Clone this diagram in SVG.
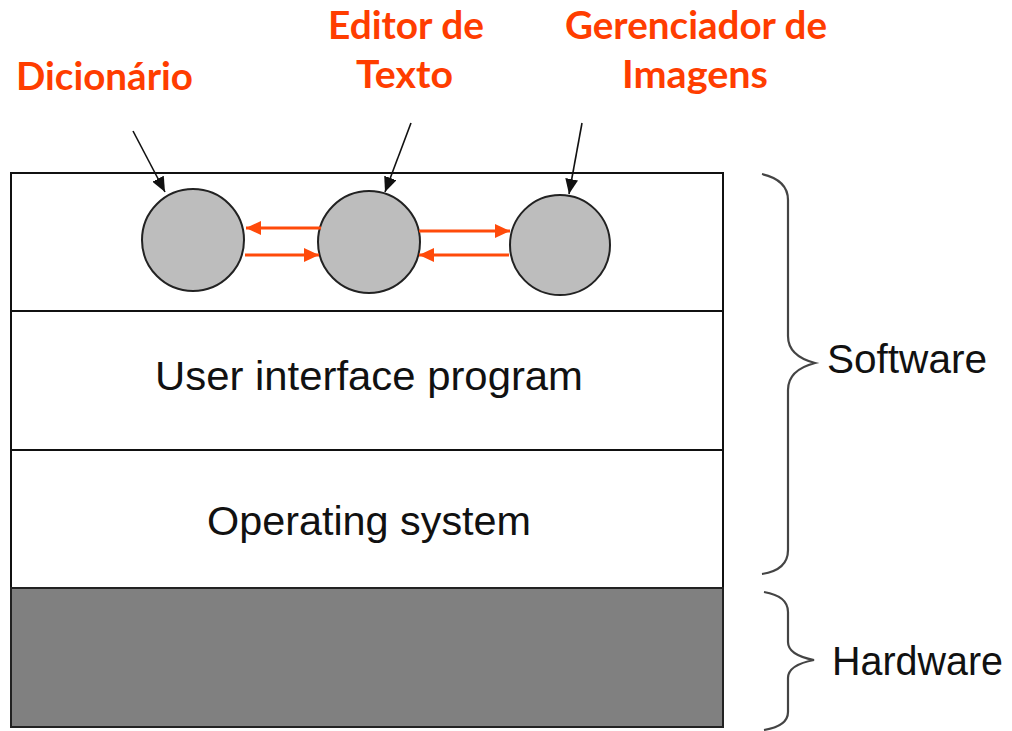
<svg xmlns="http://www.w3.org/2000/svg" width="1012" height="731" viewBox="0 0 1012 731">
<style>
.lbl{font-family:"Lato","Open Sans",sans-serif;font-weight:700;font-size:39px;fill:#FF3D00}
.txt{font-family:"Liberation Sans",Arial,sans-serif;font-size:41px;fill:#111}
.layer{fill:#fff;stroke:#111;stroke-width:2}
.proc{fill:#BDBDBD;stroke:#222;stroke-width:2}
.ptr{stroke:#111;stroke-width:1.6;fill:none}
.ipc{stroke:#FF4A0A;stroke-width:3;fill:none}
.brace{stroke:#444;stroke-width:2.2;fill:none}
</style>
<defs>
<marker id="ah" markerUnits="userSpaceOnUse" markerWidth="15" markerHeight="13" refX="15" refY="6.5" orient="auto">
<path d="M0,0 L15,6.5 L0,13 z" fill="#111"/>
</marker>
<marker id="oh" markerUnits="userSpaceOnUse" markerWidth="15" markerHeight="14" refX="15" refY="7" orient="auto">
<path d="M0,0 L15,7 L0,14 z" fill="#FF4A0A"/>
</marker>
</defs>
<rect width="1012" height="731" fill="#fff"/>

<g id="layer-apps"><rect class="layer" x="11" y="173" width="712" height="138"/></g>
<g id="layer-ui"><rect class="layer" x="11" y="311" width="712" height="139"/>
<text class="txt" x="369" y="390" text-anchor="middle" textLength="428" lengthAdjust="spacingAndGlyphs">User interface program</text></g>
<g id="layer-os"><rect class="layer" x="11" y="450" width="712" height="138"/>
<text class="txt" x="369" y="535" text-anchor="middle" textLength="324" lengthAdjust="spacingAndGlyphs">Operating system</text></g>
<g id="layer-hw"><rect x="11" y="588" width="712" height="139" fill="#808080" stroke="#222" stroke-width="2"/></g>

<g id="dicionario">
<circle class="proc" cx="193" cy="240" r="51"/>
<text class="lbl" x="16" y="90" textLength="177" lengthAdjust="spacingAndGlyphs">Dicionário</text>
</g>
<g id="editor">
<circle class="proc" cx="369" cy="242" r="51"/>
<text class="lbl" x="328" y="39" textLength="156" lengthAdjust="spacingAndGlyphs">Editor de</text>
<text class="lbl" x="356" y="88" textLength="97" lengthAdjust="spacingAndGlyphs">Texto</text>
</g>
<g id="gerenciador">
<circle class="proc" cx="560" cy="245" r="50"/>
<text class="lbl" x="565" y="39" textLength="262" lengthAdjust="spacingAndGlyphs">Gerenciador de</text>
<text class="lbl" x="622" y="88" textLength="146" lengthAdjust="spacingAndGlyphs">Imagens</text>
</g>

<g id="connectors">
<line class="ptr" x1="133" y1="131" x2="165" y2="192" marker-end="url(#ah)"/>
<line class="ptr" x1="411" y1="123" x2="385" y2="192" marker-end="url(#ah)"/>
<line class="ptr" x1="582" y1="123" x2="569" y2="194" marker-end="url(#ah)"/>
<line class="ipc" x1="321" y1="228" x2="246" y2="228" marker-end="url(#oh)"/>
<line class="ipc" x1="245" y1="255" x2="319" y2="255" marker-end="url(#oh)"/>
<line class="ipc" x1="419" y1="231" x2="510" y2="231" marker-end="url(#oh)"/>
<line class="ipc" x1="509" y1="255" x2="419" y2="255" marker-end="url(#oh)"/>
</g>

<g id="software">
<path class="brace" d="M762,174 Q788,180 788,200 L788,336 Q788,356 815,363 Q788,370 788,390 L788,550 Q788,570 762,574"/>
<text class="txt" x="827" y="373" textLength="160" lengthAdjust="spacingAndGlyphs">Software</text>
</g>
<g id="hardware">
<path class="brace" d="M764,592 Q788,596 788,612 L788,642 Q788,655 814,660 Q788,665 788,678 L788,712 Q788,726 764,730"/>
<text class="txt" x="832" y="675" textLength="171" lengthAdjust="spacingAndGlyphs">Hardware</text>
</g>
</svg>
